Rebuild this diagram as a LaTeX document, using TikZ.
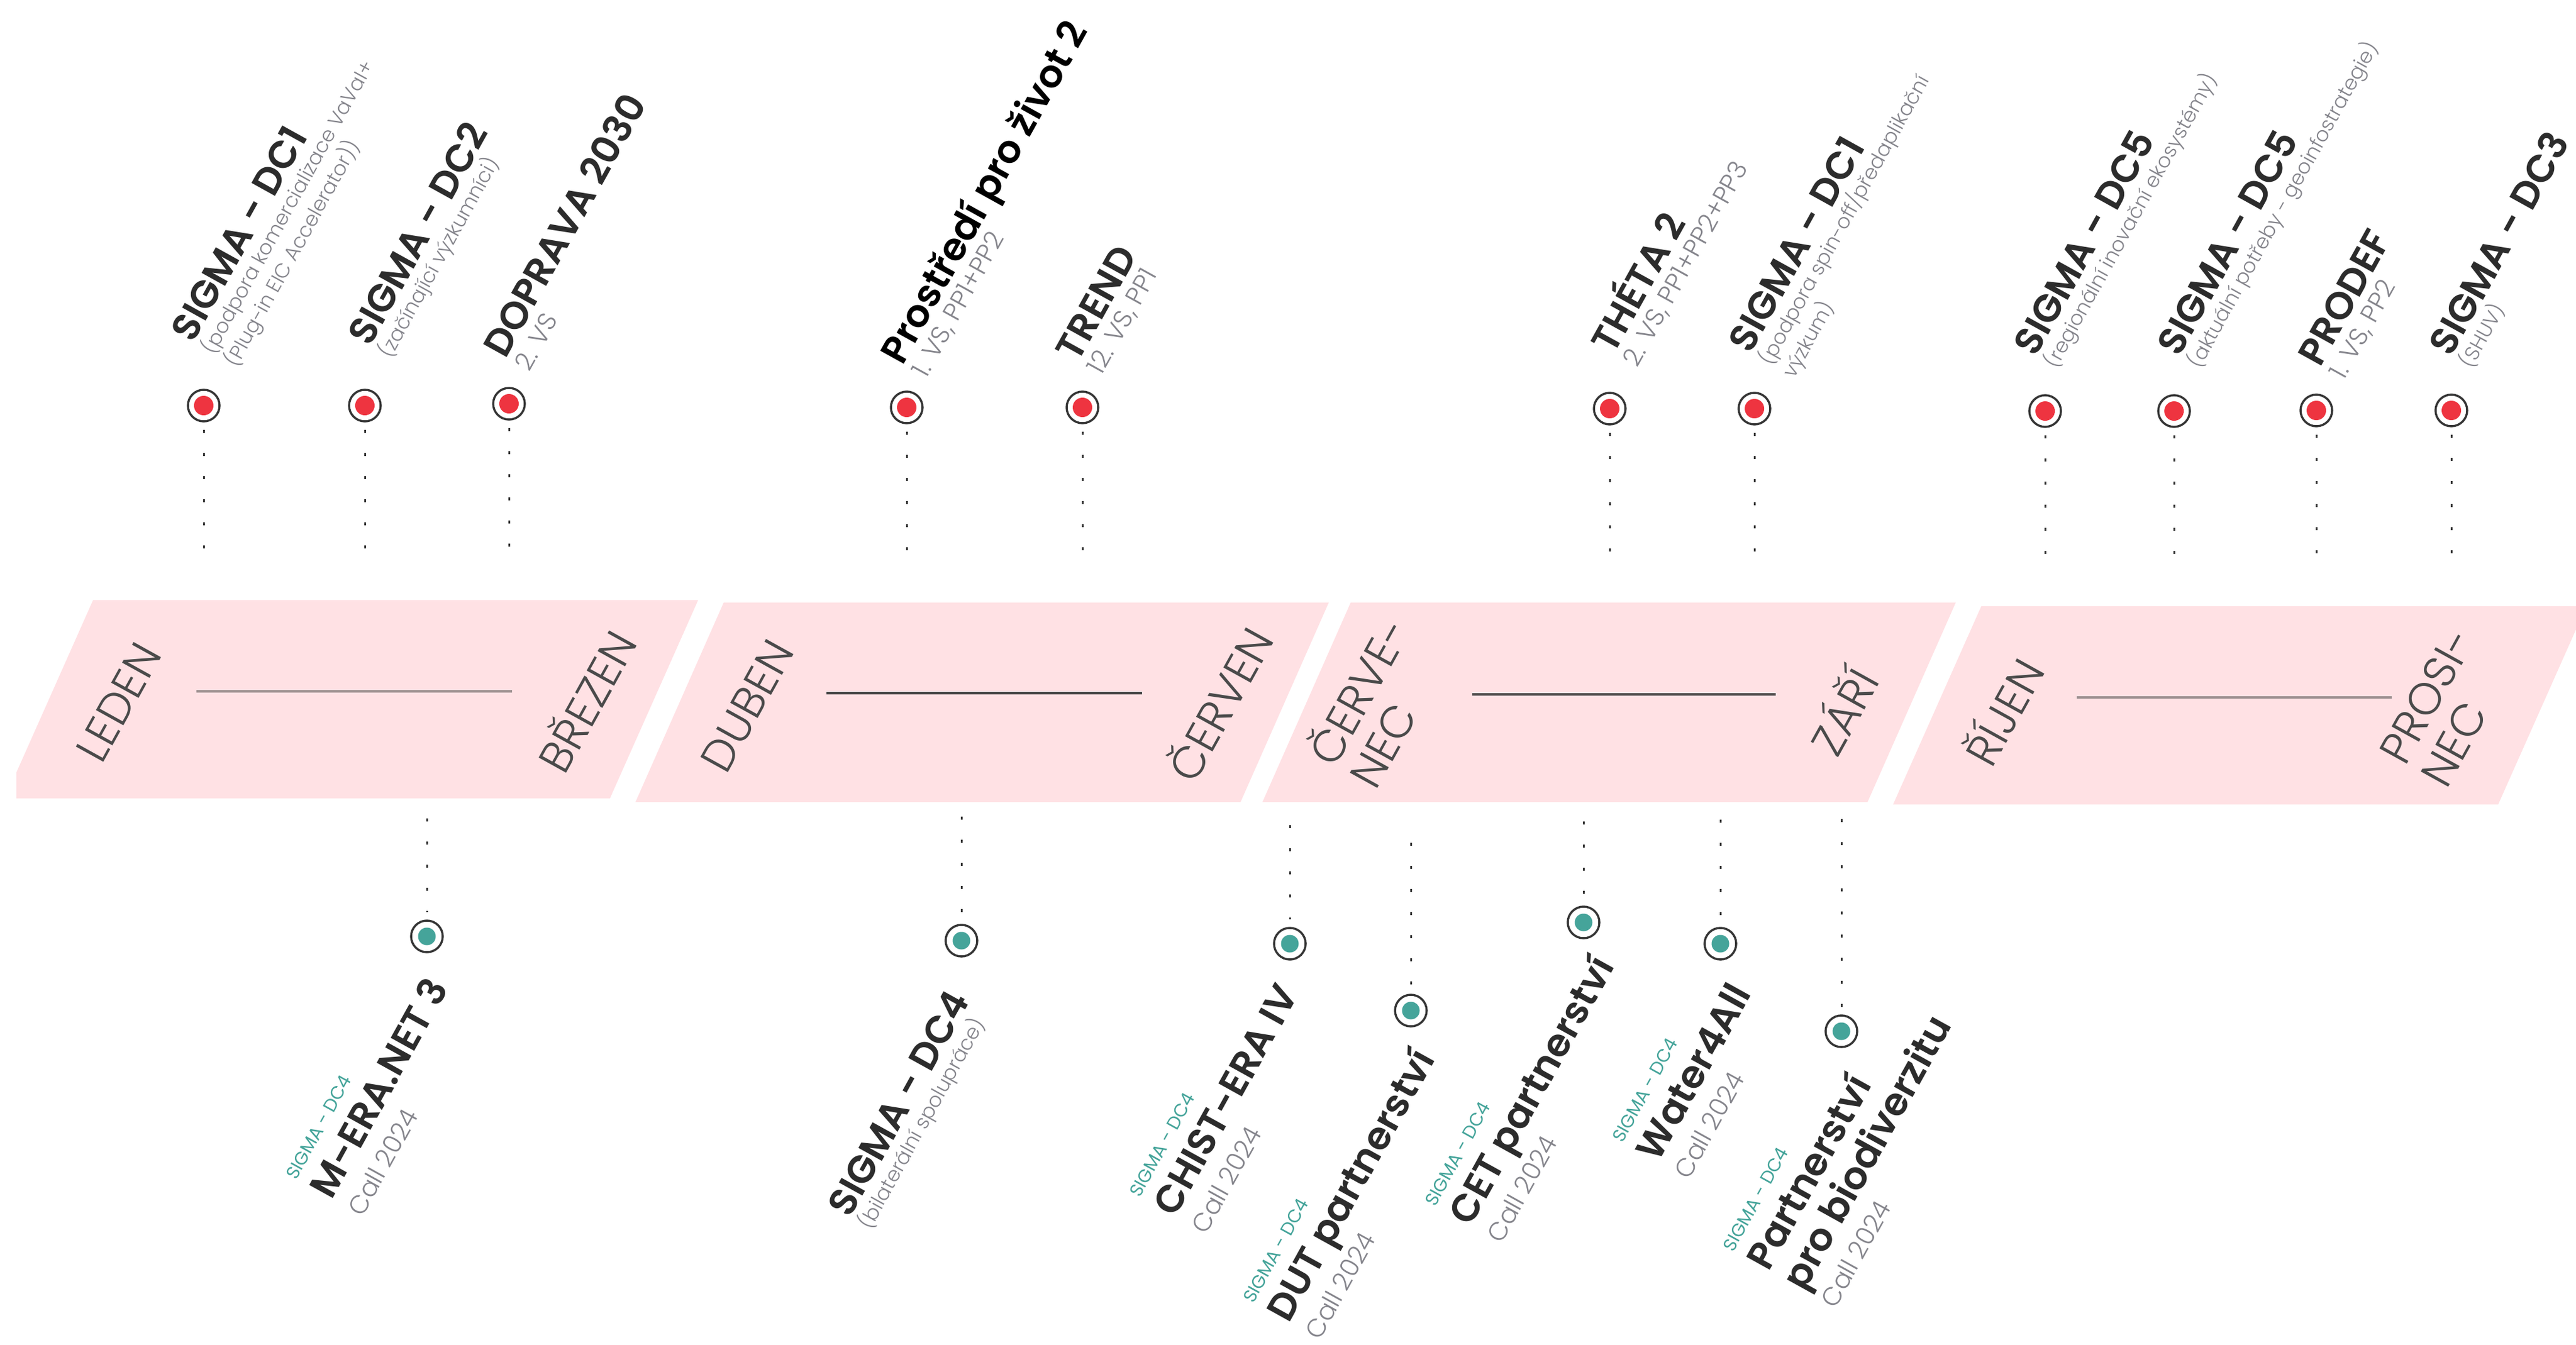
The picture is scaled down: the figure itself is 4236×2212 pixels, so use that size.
\documentclass[tikz,border=0pt]{standalone}
\usepackage{fontspec}
\setmainfont{Poppins}
\newfontfamily\lightfont{Poppins Light}
\newfontfamily\semifont{Poppins SemiBold}
\usepackage{tikz}
\usetikzlibrary{calc}

\definecolor{bandpink}{HTML}{FFE1E4}
\definecolor{dotred}{HTML}{EE3440}
\definecolor{dotteal}{HTML}{45A49A}
\definecolor{ringgray}{HTML}{353535}
\definecolor{titlegray}{HTML}{2C2C2C}
\definecolor{subgray}{HTML}{85858C}
\definecolor{monthgray}{HTML}{4A4A4A}
\definecolor{linelight}{HTML}{9A8E8E}
\definecolor{linedark}{HTML}{454545}

\newcommand\titlef{\fontsize{18}{19}\semifont\color{titlegray}}
\newcommand\subf{\fontsize{9.5}{11}\lightfont\color{subgray}}
\newcommand\vsf{\fontsize{12}{13}\lightfont\color{subgray}}
\newcommand\tealf{\fontsize{8.5}{9}\selectfont\color{dotteal}}
\newcommand\callf{\fontsize{12}{13}\lightfont\color{subgray}}
\newcommand\labelf{\fontsize{10}{10}\selectfont\lineskiplimit=-50pt\relax}

\begin{document}
\begin{tikzpicture}[x=0.1mm,y=-0.1mm,
    band/.style={fill=bandpink},
    month/.style={rotate=61, align=left, inner sep=0pt, text=monthgray,
        font=\fontsize{21}{22}\lightfont},
    monthline/.style={line width=0.45mm},
    reddot/.style={circle, draw=ringgray, line width=0.35mm, fill=white,
        minimum size=5.2mm, inner sep=0pt,
        path picture={\fill[dotred] (path picture bounding box.center) circle (1.6mm);}},
    tealdot/.style={circle, draw=ringgray, line width=0.35mm, fill=white,
        minimum size=5.2mm, inner sep=0pt,
        path picture={\fill[dotteal] (path picture bounding box.center) circle (1.45mm);}},
    dots/.style={draw=ringgray, line width=0.3mm, dash pattern=on 0.5mm off 3.3mm},
    calllabel/.style={rotate=61, anchor=base west, align=left, inner sep=0pt,
        font=\labelf}]
    \useasboundingbox (0,0) rectangle (4236,2212);

    % Month band
    \begin{scope}
        \clip (27,0) rectangle (4236,2212);
        \foreach \x/\yt/\yb in {153/987/1313, 1190/991/1319, 2221/991/1319, 3258/997/1323}
            \fill[band] (\x,\yt) -- (\x+995,\yt) -- (\x+850,\yb) -- (\x-145,\yb) -- cycle;
    \end{scope}

    % Months
    \node[month] (leden) at (195,1155) {LEDEN};
    \node[month] (brezen) at (961,1151) {BŘEZEN};
    \node[month] (duben) at (1229,1161) {DUBEN};
    \node[month] (cerven) at (2002,1156) {ČERVEN};
    \node[month] (cervenec) at (2264,1153) {ČERVE-\\NEC};
    \node[month] (zari) at (3028,1168) {ZÁŘÍ};
    \node[month] (rijen) at (3291,1168) {ŘÍJEN};
    \node[month] (prosinec) at (4025,1163) {PROSI-\\NEC};

    \coordinate (q1a) at (323,1137);  \coordinate (q1b) at (842,1137);
    \coordinate (q2a) at (1359,1140); \coordinate (q2b) at (1878,1140);
    \coordinate (q3a) at (2421,1142); \coordinate (q3b) at (2920,1142);
    \coordinate (q4a) at (3415,1147); \coordinate (q4b) at (3933,1147);
    \draw[monthline, linelight] (q1a) -- (q1b);
    \draw[monthline, linedark] (q2a) -- (q2b);
    \draw[monthline, linedark] (q3a) -- (q3b);
    \draw[monthline, linelight] (q4a) -- (q4b);

    % Top calls
    \node[reddot] (dc1a-dot) at (335,667) {};
    \node[reddot] (dc2-dot) at (600,667) {};
    \node[reddot] (doprava-dot) at (837,664) {};
    \node[reddot] (prostredi-dot) at (1491,670) {};
    \node[reddot] (trend-dot) at (1780,670) {};
    \node[reddot] (theta-dot) at (2647,672) {};
    \node[reddot] (dc1b-dot) at (2885,672) {};
    \node[reddot] (dc5a-dot) at (3363,676) {};
    \node[reddot] (dc5b-dot) at (3575,676) {};
    \node[reddot] (prodef-dot) at (3809,675) {};
    \node[reddot] (dc3-dot) at (4031,675) {};

    \foreach \n/\x in {dc1a/335, dc2/600, doprava/837, prostredi/1491, trend/1780,
        theta/2647, dc1b/2885, dc5a/3363, dc5b/3575, prodef/3809, dc3/4031} {
        \coordinate (\n-end) at (\x,915);
        \draw[dots, shorten <=1.2mm] (\n-dot) -- (\n-end);
    }

    \node[calllabel] (dc1a) at (389,606) {{\titlef SIGMA - DC1}\\[1pt]{\subf (podpora komercializace VaVaI+}\\[2.3pt]{\subf (Plug-in EIC Accelerator))}};
    \node[calllabel] (dc2) at (642,591) {{\titlef SIGMA - DC2}\\[1pt]{\subf (začínající výzkumníci)}};
    \node[calllabel] (doprava) at (870,613) {{\titlef DOPRAVA 2030}\\[2.5pt]{\vsf 2. VS}};
    \node[calllabel] (prostredi) at (1523,624) {{\titlef\color{black} Prostředí pro život 2}\\[2.5pt]{\vsf 1. VS, PP1+PP2}};
    \node[calllabel] (trend) at (1811,619) {{\titlef TREND}\\[2.5pt]{\vsf 12. VS, PP1}};
    \node[calllabel] (theta) at (2692,606) {{\titlef THÉTA 2}\\[2.5pt]{\vsf 2. VS, PP1+PP2+PP3}};
    \node[calllabel] (dc1b) at (2950,624) {{\titlef SIGMA - DC1}\\[1pt]{\subf (podpora spin-off/předaplikační}\\[2.3pt]{\subf výzkum)}};
    \node[calllabel] (dc5a) at (3381,608) {{\titlef SIGMA - DC5}\\[1pt]{\subf (regionální inovační ekosystémy)}};
    \node[calllabel] (dc5b) at (3617,608) {{\titlef SIGMA - DC5}\\[1pt]{\subf (aktuální potřeby - geoinfostrategie)}};
    \node[calllabel] (prodef) at (3854,627) {{\titlef PRODEF}\\[2.5pt]{\vsf 1. VS, PP2}};
    \node[calllabel] (dc3) at (4064,608) {{\titlef SIGMA - DC3}\\[1pt]{\subf (SHUV)}};

    % Bottom calls
    \node[tealdot] (meranet-dot) at (702,1540) {};
    \node[tealdot] (dc4-dot) at (1581,1547) {};
    \node[tealdot] (chistera-dot) at (2121,1552) {};
    \node[tealdot] (dut-dot) at (2320,1662) {};
    \node[tealdot] (cet-dot) at (2604,1517) {};
    \node[tealdot] (water-dot) at (2829,1552) {};
    \node[tealdot] (biodiv-dot) at (3028,1696) {};

    \foreach \n/\x/\y in {meranet/702/1346, dc4/1581/1343, chistera/2121/1357, dut/2320/1386,
        cet/2604/1351, water/2829/1348, biodiv/3028/1347} {
        \coordinate (\n-top) at (\x,\y);
        \draw[dots, shorten >=1.2mm] (\n-top) -- (\n-dot);
    }

    \node[calllabel] (meranet) at (596,2003) {{\tealf SIGMA - DC4}\\[9pt]{\titlef M-ERA.NET 3}\\[6.5pt]{\callf Call 2024}};
    \node[calllabel] (dc4) at (1431,2024) {{\titlef SIGMA - DC4}\\[1pt]{\subf (bilaterální spolupráce)}};
    \node[calllabel] (chistera) at (1983,2032) {{\tealf SIGMA - DC4}\\[9pt]{\titlef CHIST-ERA IV}\\[6.5pt]{\callf Call 2024}};
    \node[calllabel] (dut) at (2170,2206) {{\tealf SIGMA - DC4}\\[9pt]{\titlef DUT partnerství}\\[6.5pt]{\callf Call 2024}};
    \node[calllabel] (cet) at (2469,2047) {{\tealf SIGMA - DC4}\\[9pt]{\titlef CET partnerství}\\[6.5pt]{\callf Call 2024}};
    \node[calllabel] (water) at (2777,1942) {{\tealf SIGMA - DC4}\\[9pt]{\titlef Water4All}\\[6.5pt]{\callf Call 2024}};
    \node[calllabel] (biodiv) at (3018,2154) {{\tealf SIGMA - DC4}\\[9pt]{\titlef Partnerství}\\[9.2pt]{\titlef pro biodiverzitu}\\[6.5pt]{\callf Call 2024}};
\end{tikzpicture}
\end{document}
